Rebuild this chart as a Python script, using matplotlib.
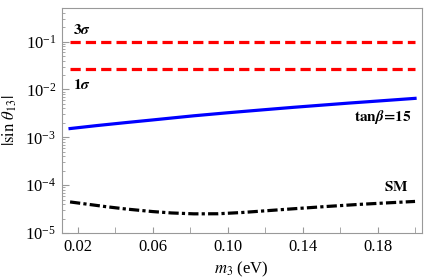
import numpy as np
import matplotlib
matplotlib.use("Agg")
import matplotlib.pyplot as plt
from matplotlib.ticker import LogLocator, FixedLocator

plt.rcParams["font.family"] = ["Liberation Serif", "DejaVu Serif"]
plt.rcParams["mathtext.fontset"] = "stix"

# m3 (eV) sample points
m3 = [0.016, 0.03, 0.046, 0.06, 0.07, 0.082, 0.1, 0.118, 0.135, 0.15, 0.165, 0.18, 0.2]
tanb15 = [1.52e-3, 1.75e-3, 2.03e-3, 2.30e-3, 2.52e-3, 2.81e-3, 3.25e-3, 3.72e-3, 4.22e-3, 4.68e-3, 5.19e-3, 5.71e-3, 6.5e-3]
m3_sm = [0.016, 0.025, 0.035, 0.046, 0.06, 0.07, 0.082, 0.095, 0.108, 0.12, 0.135, 0.153, 0.17, 0.185, 0.2]
sm = [4.45e-5, 4.0e-5, 3.55e-5, 3.16e-5, 2.8e-5, 2.62e-5, 2.51e-5, 2.52e-5, 2.68e-5, 2.9e-5, 3.2e-5, 3.58e-5, 3.95e-5, 4.25e-5, 4.56e-5]
sigma3 = 0.1
sigma1 = 0.027

xticks = [0.02, 0.06, 0.10, 0.14, 0.18]
xtick_labels = ["0.02", "0.06", "0.10", "0.14", "0.18"]

fig = plt.figure(figsize=(4.25, 2.8), dpi=100)
ax = fig.add_axes([0.145, 0.168, 0.847, 0.803])

ax.plot([m3[0], m3[-1]], [sigma3, sigma3], color="#ff0000", lw=2.3, ls=(0, (3.2, 1.6)), dash_capstyle="butt")
ax.plot([m3[0], m3[-1]], [sigma1, sigma1], color="#ff0000", lw=2.3, ls=(0, (3.2, 1.6)), dash_capstyle="butt")
ax.plot(m3, tanb15, color="#0000ff", lw=2.3)
ax.plot(m3_sm, sm, color="black", lw=2.3, ls=(0, (3.2, 1.0, 1.0, 1.0)), dash_capstyle="butt")

ax.set_yscale("log")
ax.set_xlim(0.0115, 0.2035)
ax.set_ylim(1e-5, 0.5)

ax.xaxis.set_major_locator(FixedLocator(xticks))
ax.set_xticklabels(xtick_labels)
ax.xaxis.set_minor_locator(FixedLocator([0.04, 0.08, 0.12, 0.16, 0.20]))
ax.yaxis.set_major_locator(LogLocator(base=10, numticks=10))
ax.yaxis.set_minor_locator(LogLocator(base=10, subs=np.arange(2, 10), numticks=20))

for s in ax.spines.values():
    s.set_color("#999999")
ax.tick_params(which="both", direction="in", color="#999999", top=False, right=False, labelsize=12, pad=4)
ax.tick_params(axis="x", which="both", length=4)
ax.tick_params(axis="y", which="major", length=5)
ax.tick_params(axis="y", which="minor", length=2.5)

ax.set_xlabel(r"$m_3$ (eV)", fontsize=12, labelpad=4)
ax.set_ylabel(r"$|\sin\,\theta_{13}|$", fontsize=12, labelpad=4)

ax.text(0.0175, 0.125, r"$\mathbf{3}\boldsymbol{\sigma}$", fontsize=11, ha="left", va="bottom")
ax.text(0.0175, 0.017, r"$\mathbf{1}\boldsymbol{\sigma}$", fontsize=11, ha="left", va="top")
ax.text(0.1985, 2.6e-3, r"$\mathbf{tan}\boldsymbol{\beta}\!\mathbf{=}\!\mathbf{15}$", fontsize=11, ha="right", va="center")
ax.text(0.190, 9e-5, r"$\mathbf{SM}$", fontsize=11, ha="center", va="center")

fig.savefig("out.png", dpi=100)
